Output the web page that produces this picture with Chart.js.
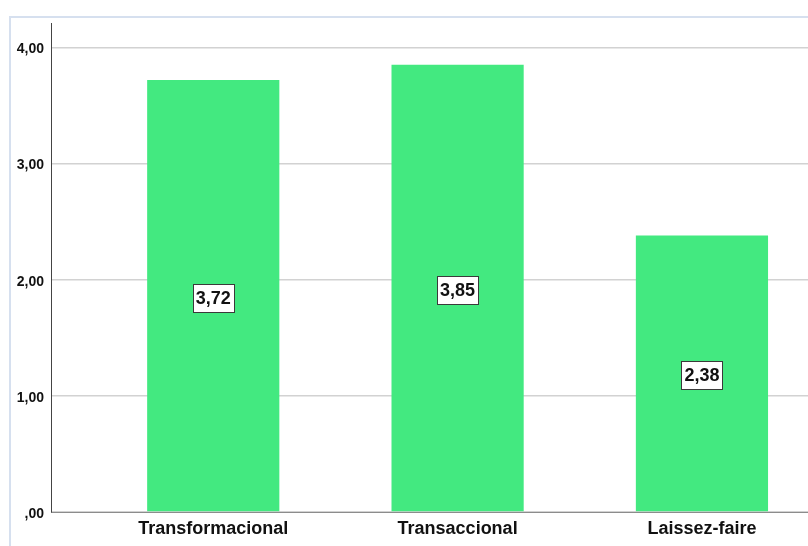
<!DOCTYPE html>
<html>
<head>
<meta charset="utf-8">
<script src="https://cdn.jsdelivr.net/npm/chart.js@4/dist/chart.umd.min.js"></script>
<style>
  html, body { margin: 0; padding: 0; background: #ffffff; overflow: hidden; }
  #wrap { position: relative; width: 808px; height: 546px; }
  #frame {
    position: absolute; left: 9px; top: 16px; width: 900px; height: 700px;
    border-left: 2px solid #d6e0ef; border-top: 2px solid #d6e0ef;
  }
  #chart { position: absolute; left: 0; top: 0; }
</style>
</head>
<body>
<div id="wrap">
  <div id="frame"></div>
  <canvas id="chart" width="808" height="546"></canvas>
</div>
<script>
// Mean score per leadership style
const categories = ['Transformacional', 'Transaccional', 'Laissez-faire'];
const means = [3.72, 3.85, 2.38];
const yTicks = [0, 1, 2, 3, 4];

const FONT = "'Liberation Sans', Arial, sans-serif";

function fmt(v) {
  let s = Number(v).toFixed(2).replace('.', ',');
  if (s.startsWith('0,')) s = s.slice(1);
  return s;
}

// Boxed value label in the middle of each bar
const boxedLabels = {
  id: 'boxedLabels',
  afterDatasetsDraw(chart) {
    const ctx = chart.ctx;
    const meta = chart.getDatasetMeta(0);
    ctx.save();
    ctx.font = 'bold 18px ' + FONT;
    ctx.textAlign = 'center';
    ctx.textBaseline = 'middle';
    meta.data.forEach((bar, i) => {
      const txt = fmt(chart.data.datasets[0].data[i].y);
      const cx = bar.x;
      const cy = (bar.y + bar.base) / 2 + 2;
      const w = Math.round(ctx.measureText(txt).width) + 6;
      const h = 28;
      const x0 = Math.round(cx - w / 2) + 0.5;
      const y0 = Math.round(cy - h / 2) + 0.5;
      ctx.fillStyle = '#ffffff';
      ctx.fillRect(x0, y0, w, h);
      ctx.strokeStyle = '#3a3a3a';
      ctx.lineWidth = 1;
      ctx.strokeRect(x0, y0, w, h);
      ctx.fillStyle = '#111111';
      ctx.fillText(txt, cx, cy + 1);
    });
    ctx.restore();
  }
};

new Chart(document.getElementById('chart'), {
  type: 'bar',
  data: {
    datasets: [{
      data: means.map((v, i) => ({ x: i + 1, y: v })),
      backgroundColor: '#43e980',
      borderWidth: 0,
      barPercentage: 0.541,
      categoryPercentage: 1
    }]
  },
  options: {
    responsive: false,
    animation: false,
    devicePixelRatio: 1,
    layout: { padding: { left: 0, top: 23, right: 0, bottom: 0 } },
    plugins: { legend: { display: false }, tooltip: { enabled: false } },
    scales: {
      x: {
        type: 'linear',
        offset: false,
        min: 0.336,
        max: 3.434,
        afterBuildTicks(scale) {
          scale.ticks = categories.map((c, i) => ({ value: i + 1 }));
        },
        afterFit(scale) { scale.height = 34; },
        grid: { display: false, drawTicks: false, offset: false },
        border: { display: true, color: '#8c8c8c', width: 1 },
        ticks: {
          padding: 6,
          color: '#111111',
          font: { family: FONT, size: 18, weight: 'bold' },
          callback: (v) => categories[v - 1] || ''
        }
      },
      y: {
        min: 0,
        max: 4.21,
        afterBuildTicks(scale) {
          scale.ticks = yTicks.map(v => ({ value: v }));
        },
        afterFit(scale) { scale.width = 51; },
        grid: { color: '#d2d2d2', lineWidth: 1.5, drawTicks: false },
        border: { display: true, color: '#444444', width: 1 },
        ticks: {
          padding: 7,
          labelOffset: 2,
          color: '#111111',
          font: { family: FONT, size: 14, weight: 'bold' },
          callback: (v) => fmt(v)
        }
      }
    }
  },
  plugins: [boxedLabels]
});
</script>
</body>
</html>
